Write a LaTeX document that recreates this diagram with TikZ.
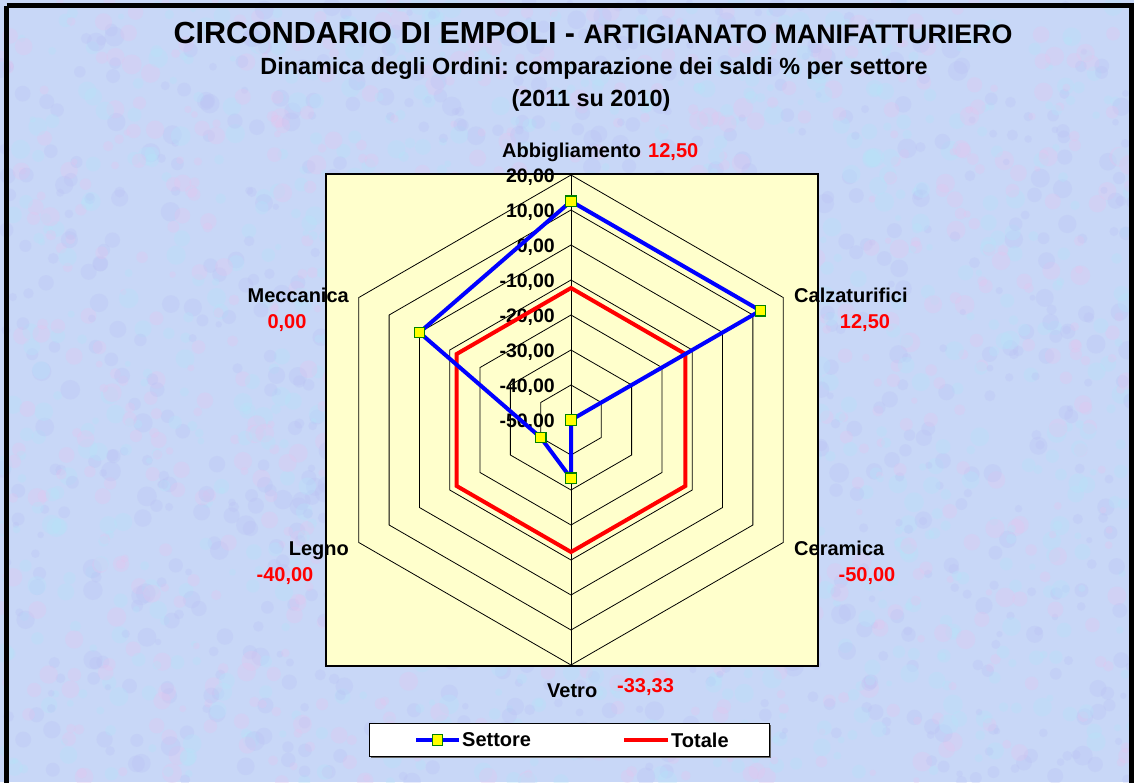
\documentclass[tikz,border=0pt]{standalone}
\usepackage{fontspec}
\setmainfont{Liberation Sans}
\usetikzlibrary{calc}
\frenchspacing
\definecolor{bgbase}{RGB}{200,215,247}
\definecolor{bgpink}{RGB}{228,196,238}
\definecolor{bgcyan}{RGB}{180,228,250}
\definecolor{bglav}{RGB}{186,194,244}
\definecolor{plotfill}{RGB}{255,255,204}
\definecolor{serblue}{RGB}{0,0,255}
\definecolor{serred}{RGB}{255,0,0}
\definecolor{mkgreen}{RGB}{0,128,0}
\definecolor{mkyellow}{RGB}{255,255,0}
\begin{document}
\begin{tikzpicture}[x=1pt,y=-1pt,
  lab/.style={font=\bfseries\fontsize{20}{22}\selectfont, inner sep=0pt, anchor=base west},
  val/.style={lab, text=serred},
  axlab/.style={font=\bfseries\fontsize{19.5}{21}\selectfont, inner sep=0pt, anchor=base east},
  gridline/.style={black, line width=0.8pt},
  setline/.style={serblue, line width=4pt, line join=miter},
  totline/.style={serred, line width=4pt, line join=miter},
  mark box/.style={draw=mkgreen, fill=mkyellow, line width=1.3pt, minimum size=10.5pt, inner sep=0pt, rectangle}
]
\useasboundingbox (0,0) rectangle (1134,782);
% background texture
\fill[bgbase] (0,0) rectangle (1134,782);
\begin{scope}
\clip (0,0) rectangle (1134,782);
\pgfmathsetseed{7}
\foreach \i in {1,...,2600}{
  \pgfmathsetmacro\px{rnd*1134}
  \pgfmathsetmacro\py{rnd*782}
  \pgfmathsetmacro\pr{3+rnd*7}
  \pgfmathsetmacro\pc{rnd}
  \ifdim\pc pt<0.3pt
    \fill[bgpink, opacity=0.3] (\px,\py) circle (\pr);
  \else\ifdim\pc pt<0.65pt
    \fill[bgcyan, opacity=0.3] (\px,\py) circle (\pr);
  \else
    \fill[bglav, opacity=0.3] (\px,\py) circle (\pr);
  \fi\fi
}
\end{scope}
% outer frame
\draw[line width=5pt] (6.5,5.5) -- (1131.5,5.5) -- (1131.5,800);
\draw[line width=5pt] (6.5,5.5) -- (6.5,800);

% titles
\node[inner sep=0pt, anchor=base] (title) at (593,43)
  {\bfseries\fontsize{30.5}{32}\selectfont CIRCONDARIO DI EMPOLI - \fontsize{26.8}{28}\selectfont ARTIGIANATO MANIFATTURIERO};
\node[inner sep=0pt, anchor=base, font=\bfseries\fontsize{23.4}{25}\selectfont] (sub1) at (594,74)
  {Dinamica degli Ordini: comparazione dei saldi \% per settore};
\node[inner sep=0pt, anchor=base, font=\bfseries\fontsize{23.4}{25}\selectfont] (sub2) at (591,106)
  {(2011 su 2010)};

% plot area
\fill[plotfill] (326,174) rectangle (818,666);
\draw[line width=1.4pt] (326,174) rectangle (818,666);

\coordinate (O) at (571,420);
% rings
\foreach \j in {1,...,7}{
  \pgfmathsetmacro\r{35*\j}
  \draw[gridline, shift={(O)}] (-90:\r) -- (-30:\r) -- (30:\r) -- (90:\r) -- (150:\r) -- (210:\r) -- cycle;
}
\coordinate (top) at ($(O)+(-90:245)$);
\coordinate (bot) at ($(O)+(90:245)$);
\draw[gridline] (top) -- (bot);

% axis labels
\foreach \v/\k in {{20,00}/0,{10,00}/1,{0,00}/2,{-10,00}/3,{-20,00}/4,{-30,00}/5,{-40,00}/6,{-50,00}/7}{
  \node[axlab] at (555,{175+35*\k+7}) {\v};
}

% Totale series
\foreach \k in {0,...,5}{
  \coordinate (t\k) at ($(O)+({-90+60*\k}:132)$);
}
\draw[totline] (t0) -- (t1) -- (t2) -- (t3) -- (t4) -- (t5) -- cycle;

% Settore series
\coordinate (s0) at ($(O)+(-90:218.75)$);
\coordinate (s1) at ($(O)+(-30:218.75)$);
\coordinate (s2) at (O);
\coordinate (s3) at ($(O)+(90:58.3)$);
\coordinate (s4) at ($(O)+(150:35)$);
\coordinate (s5) at ($(O)+(210:175)$);
\draw[setline] (s0) -- (s1) -- (s2) -- (s3) -- (s4) -- (s5) -- cycle;
\foreach \k in {0,...,5}{
  \node[mark box] (m\k) at (s\k) {};
}

% category labels
\node[lab] (cAbb) at (502,157) {Abbigliamento};
\node[val] (vAbb) at (648,157) {12,50};
\node[lab] (cCal) at (794,302) {Calzaturifici};
\node[val, anchor=base] (vCal) at (865,328) {12,50};
\node[lab] (cCer) at (794,555) {Ceramica};
\node[val, anchor=base] (vCer) at (867,581) {-50,00};
\node[lab] (cVet) at (547,697) {Vetro};
\node[val] (vVet) at (617,692) {-33,33};
\node[lab, anchor=base east] (cLeg) at (349,555) {Legno};
\node[val, anchor=base] (vLeg) at (285,581) {-40,00};
\node[lab, anchor=base east] (cMec) at (349,302) {Meccanica};
\node[val, anchor=base] (vMec) at (287,328) {0,00};

% legend
\fill[black!60] (371,725) rectangle (771,758);
\draw[fill=white, line width=1pt] (369,723) rectangle (769,756);
\coordinate (l1a) at (416,740);
\coordinate (l1b) at (459,740);
\draw[setline] (l1a) -- (l1b);
\node[mark box] (lm) at ($(l1a)!0.5!(l1b)$) {};
\node[lab, anchor=west] (lset) at (462,740) {Settore};
\coordinate (l2a) at (624,740);
\coordinate (l2b) at (668,740);
\draw[totline] (l2a) -- (l2b);
\node[lab, anchor=west] (ltot) at (671,740) {Totale};
\end{tikzpicture}
\end{document}
